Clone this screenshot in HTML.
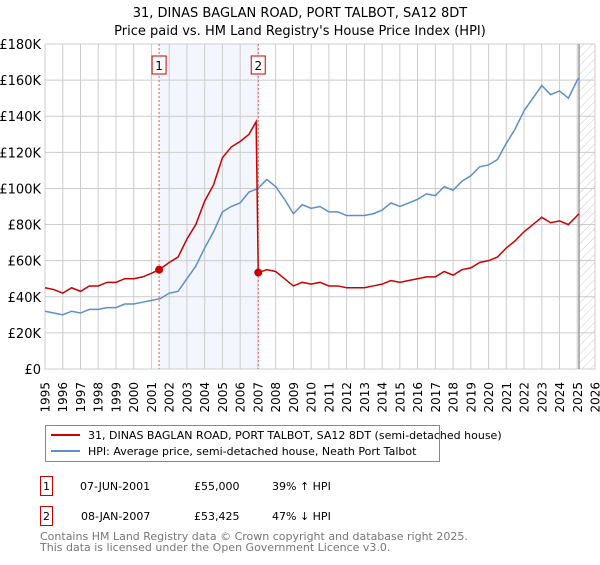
<!DOCTYPE html>
<html><head><meta charset="utf-8"><style>
body{margin:0;background:#fff;font-family:"Liberation Sans","DejaVu Sans",sans-serif;}
svg text{font-family:"DejaVu Sans","Liberation Sans",sans-serif;}
</style></head><body>
<svg width="600" height="560">
<text x="300" y="17" text-anchor="middle" font-size="13">31, DINAS BAGLAN ROAD, PORT TALBOT, SA12 8DT</text>
<text x="300" y="35" text-anchor="middle" font-size="13">Price paid vs. HM Land Registry's House Price Index (HPI)</text>
<defs><pattern id="hatch" width="6" height="6" patternUnits="userSpaceOnUse" patternTransform="rotate(45)"><line x1="0" y1="0" x2="0" y2="6" stroke="#ccc" stroke-width="1"/></pattern></defs>
<g id="plot"></g>
<g>
<rect x="45.5" y="425.5" width="394" height="36" fill="#fff" stroke="#888"/>
<line x1="51" y1="435" x2="80" y2="435" stroke="#cc0000" stroke-width="2"/>
<text x="88" y="439" font-size="11">31, DINAS BAGLAN ROAD, PORT TALBOT, SA12 8DT (semi-detached house)</text>
<line x1="51" y1="451" x2="80" y2="451" stroke="#5b8fd0" stroke-width="2"/>
<text x="88" y="455" font-size="11">HPI: Average price, semi-detached house, Neath Port Talbot</text>
</g>
<g font-size="11">
<rect x="40.5" y="476.5" width="12" height="19" fill="#fff" stroke="#cc0000"/><text x="46.5" y="490" text-anchor="middle">1</text>
<text x="80" y="490">07-JUN-2001</text><text x="194" y="490">£55,000</text><text x="272" y="490">39% ↑ HPI</text>
<rect x="40.5" y="506.5" width="12" height="19" fill="#fff" stroke="#cc0000"/><text x="46.5" y="520" text-anchor="middle">2</text>
<text x="81" y="520">08-JAN-2007</text><text x="194" y="520">£53,425</text><text x="272" y="520">47% ↓ HPI</text>
</g>
<text x="40" y="540" font-size="11" fill="#777">Contains HM Land Registry data © Crown copyright and database right 2025.</text>
<text x="40" y="551" font-size="11" fill="#777">This data is licensed under the Open Government Licence v3.0.</text>
</svg>
<script>
const hpiYears=[1995,1995.5,1996,1996.5,1997,1997.5,1998,1998.5,1999,1999.5,2000,2000.5,2001,2001.5,2002,2002.5,2003,2003.5,2004,2004.5,2005,2005.5,2006,2006.5,2007,2007.5,2008,2008.5,2009,2009.5,2010,2010.5,2011,2011.5,2012,2012.5,2013,2013.5,2014,2014.5,2015,2015.5,2016,2016.5,2017,2017.5,2018,2018.5,2019,2019.5,2020,2020.5,2021,2021.5,2022,2022.5,2023,2023.5,2024,2024.5,2025,2025.1];
const hpiValues=[32,31,30,32,31,33,33,34,34,36,36,37,38,39,42,43,50,57,67,76,87,90,92,98,100,105,101,94,86,91,89,90,87,87,85,85,85,86,88,92,90,92,94,97,96,101,99,104,107,112,113,116,125,133,143,150,157,152,154,150,160,161];
const propYears=[1995,1995.5,1996,1996.5,1997,1997.5,1998,1998.5,1999,1999.5,2000,2000.5,2001,2001.43,2002,2002.5,2003,2003.5,2004,2004.5,2005,2005.5,2006,2006.5,2006.9,2007.02,2007.5,2008,2008.5,2009,2009.5,2010,2010.5,2011,2011.5,2012,2012.5,2013,2013.5,2014,2014.5,2015,2015.5,2016,2016.5,2017,2017.5,2018,2018.5,2019,2019.5,2020,2020.5,2021,2021.5,2022,2022.5,2023,2023.5,2024,2024.5,2025,2025.1];
const propValues=[45,44,42,45,43,46,46,48,48,50,50,51,53,55,59,62,72,80,93,102,117,123,126,130,137,53.4,55,54,50,46,48,47,48,46,46,45,45,45,46,47,49,48,49,50,51,51,54,52,55,56,59,60,62,67,71,76,80,84,81,82,80,85,86];
const saleYears=[2001.43,2007.02];
const saleValues=[55,53.425];
const saleLabels=["1","2"];
const yTicks=[0,20,40,60,80,100,120,140,160,180];
const xTicks=[1995,1996,1997,1998,1999,2000,2001,2002,2003,2004,2005,2006,2007,2008,2009,2010,2011,2012,2013,2014,2015,2016,2017,2018,2019,2020,2021,2022,2023,2024,2025,2026];
const X0=45,X1=595,Y0=369,Y1=44;
const xs=y=>X0+(y-1995)/31*(X1-X0);
const ys=v=>Y0-v/180*(Y0-Y1);
const NS="http://www.w3.org/2000/svg";
const g=document.getElementById('plot');
function mk(t,a,p){const e=document.createElementNS(NS,t);for(const k in a)e.setAttribute(k,a[k]);(p||g).appendChild(e);return e;}
let e;
e=mk('rect',{x:xs(saleYears[0]),y:Y1,width:xs(saleYears[1])-xs(saleYears[0]),height:Y0-Y1,fill:'#f3f6fd'});


e=mk('rect',{x:xs(2025.1),y:Y1,width:X1-xs(2025.1),height:Y0-Y1,fill:'url(#hatch)'});


yTicks.forEach(t=>{mk('line',{x1:X0,x2:X1,y1:ys(t),y2:ys(t),stroke:'#ccc'});
e=mk('text',{x:X0-4,y:ys(t)+5,'text-anchor':'end','font-size':13});e.textContent=t===0?'£0':'£'+t+'K';

});
xTicks.forEach(t=>{mk('line',{x1:xs(t),x2:xs(t),y1:Y1,y2:Y0,stroke:'#ccc'});
const tx=xs(t)+4.5,ty=Y0+13;
e=mk('text',{x:tx,y:ty,'text-anchor':'end','font-size':12,transform:'rotate(-90 '+tx+' '+ty+')'});e.textContent=t;

});
mk('rect',{x:X0,y:Y1,width:X1-X0,height:Y0-Y1,fill:'none',stroke:'#ccc'});
mk('line',{x1:xs(2025.1),x2:xs(2025.1),y1:Y1,y2:Y0,stroke:'#999','stroke-width':1.5});
saleYears.forEach((y,i)=>{e=mk('line',{x1:xs(y),x2:xs(y),y1:Y1,y2:Y0,stroke:'#e06060','stroke-dasharray':'2,2'});


mk('rect',{x:xs(y)-7,y:56,width:14,height:18,fill:'#fff',stroke:'#cc0000'});
const t=mk('text',{x:xs(y),y:70,'text-anchor':'middle','font-size':12});t.textContent=saleLabels[i];});
e=mk('polyline',{points:hpiYears.map((y,i)=>xs(y)+','+ys(hpiValues[i])).join(' '),fill:'none',stroke:'#5b8fd0','stroke-width':1.5});


e=mk('polyline',{points:propYears.map((y,i)=>xs(y)+','+ys(propValues[i])).join(' '),fill:'none',stroke:'#cc0000','stroke-width':1.5});


saleYears.forEach((y,i)=>{e=mk('circle',{cx:xs(y),cy:ys(saleValues[i]),r:4,fill:'#cc0000'});

});
</script>
</body></html>
